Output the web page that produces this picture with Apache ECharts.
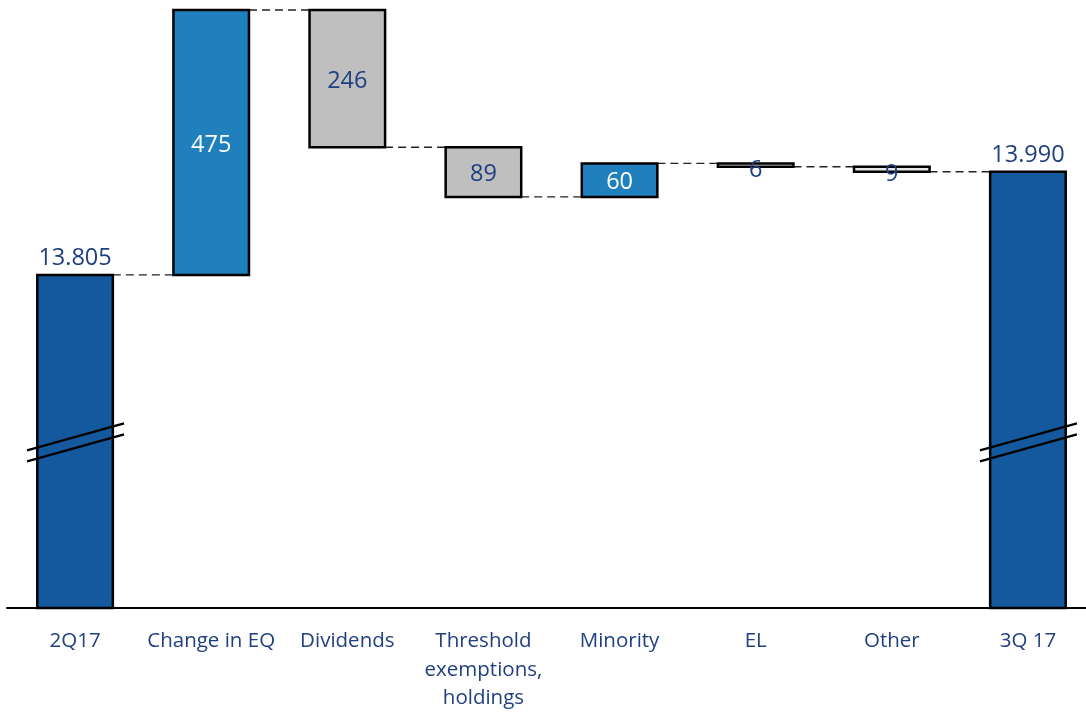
<!DOCTYPE html>
<html>
<head>
<meta charset="utf-8">
<script src="https://cdn.jsdelivr.net/npm/echarts@6/dist/echarts.min.js"></script>
<style>
  html, body { margin: 0; padding: 0; background: #fff; }
  #main { width: 1086px; height: 714px; }
</style>
</head>
<body>
<div id="main"></div>
<script>
// categories and values
var categories = ['2Q17', 'Change in EQ', 'Dividends', 'Threshold\nexemptions,\nholdings', 'Minority', 'EL', 'Other', '3Q 17'];
var startTotal = 13805;
var endTotal = 13990;
var changes = [475, -246, -89, 60, -6, -9];
var breakValue = 13505; // where the axis break marks sit

var yMin = 13208;
var yMax = 14280;
var barColors = ['#14599E', '#1F80BD', '#BFBFBF', '#BFBFBF', '#1F80BD', '#E6E6E6', '#E6E6E6', '#14599E'];
var labelColors = ['#1F3F80', '#ffffff', '#1F3F80', '#1F3F80', '#ffffff', '#1F3F80', '#1F3F80', '#1F3F80'];
var navy = '#1F3F80';
var font = 'Open Sans';

function fmtTotal(v) {
    return (v / 1000).toFixed(3);
}

// build bar rows [index, low, high, label] and connector rows [index, level]
var bars = [];
var links = [];
var running = startTotal;
bars.push([0, yMin, startTotal, fmtTotal(startTotal)]);
links.push([0, running]);
for (var i = 0; i < changes.length; i++) {
    var next = running + changes[i];
    bars.push([i + 1, Math.min(running, next), Math.max(running, next), String(Math.abs(changes[i]))]);
    running = next;
    links.push([i + 1, running]);
}
bars.push([categories.length - 1, yMin, endTotal, fmtTotal(endTotal)]);
links[links.length - 1][1] = endTotal;

var breaks = [[0, breakValue], [categories.length - 1, breakValue]];

var BAR_FRAC = 0.555;

var chart = echarts.init(document.getElementById('main'));
chart.setOption({
    animation: false,
    grid: { left: 7, width: 1089, top: 10, bottom: 106, outerBoundsMode: 'none' },
    xAxis: {
        type: 'category',
        data: categories,
        axisLine: { lineStyle: { color: '#000', width: 2 } },
        axisTick: { show: false },
        axisLabel: {
            color: navy,
            fontFamily: font,
            fontSize: 20.5,
            lineHeight: 28.5,
            margin: 19,
            interval: 0
        }
    },
    yAxis: {
        type: 'value',
        min: yMin,
        max: yMax,
        show: false
    },
    series: [
        {
            type: 'custom',
            data: links,
            z: 1,
            renderItem: function (params, api) {
                var idx = api.value(0);
                var lvl = api.value(1);
                var w = api.size([1, 0])[0] * BAR_FRAC;
                var a = api.coord([idx, lvl]);
                var b = api.coord([idx + 1, lvl]);
                return {
                    type: 'line',
                    shape: { x1: a[0] + w / 2, y1: a[1], x2: b[0] - w / 2, y2: a[1] },
                    style: { stroke: '#222', lineWidth: 1.3, lineDash: [8, 5] }
                };
            }
        },
        {
            type: 'custom',
            data: bars,
            z: 2,
            renderItem: function (params, api) {
                var idx = api.value(0);
                var top = api.coord([idx, api.value(2)]);
                var bot = api.coord([idx, api.value(1)]);
                var w = api.size([1, 0])[0] * BAR_FRAC;
                var h = bot[1] - top[1];
                var isTotal = idx === 0 || idx === categories.length - 1;
                return {
                    type: 'rect',
                    shape: { x: top[0] - w / 2, y: top[1], width: w, height: h },
                    style: { fill: barColors[idx], stroke: '#000', lineWidth: 2.5 },
                    textContent: {
                        style: {
                            text: bars[params.dataIndex][3],
                            fill: labelColors[idx],
                            fontFamily: font,
                            fontSize: 23.5
                        }
                    },
                    textConfig: isTotal
                        ? { position: 'top', distance: 3 }
                        : { position: 'inside', offset: [0, h < 10 ? 5 : 2.5] }
                };
            }
        },
        {
            type: 'custom',
            data: breaks,
            z: 3,
            renderItem: function (params, api) {
                var c = api.coord([api.value(0), api.value(1)]);
                var st = { stroke: '#000', lineWidth: 2.2 };
                return {
                    type: 'group',
                    children: [
                        { type: 'line', shape: { x1: c[0] - 48, y1: c[1] + 8, x2: c[0] + 49, y2: c[1] - 19 }, style: st },
                        { type: 'line', shape: { x1: c[0] - 48, y1: c[1] + 19, x2: c[0] + 49, y2: c[1] - 8 }, style: st }
                    ]
                };
            }
        }
    ]
});
</script>
</body>
</html>
